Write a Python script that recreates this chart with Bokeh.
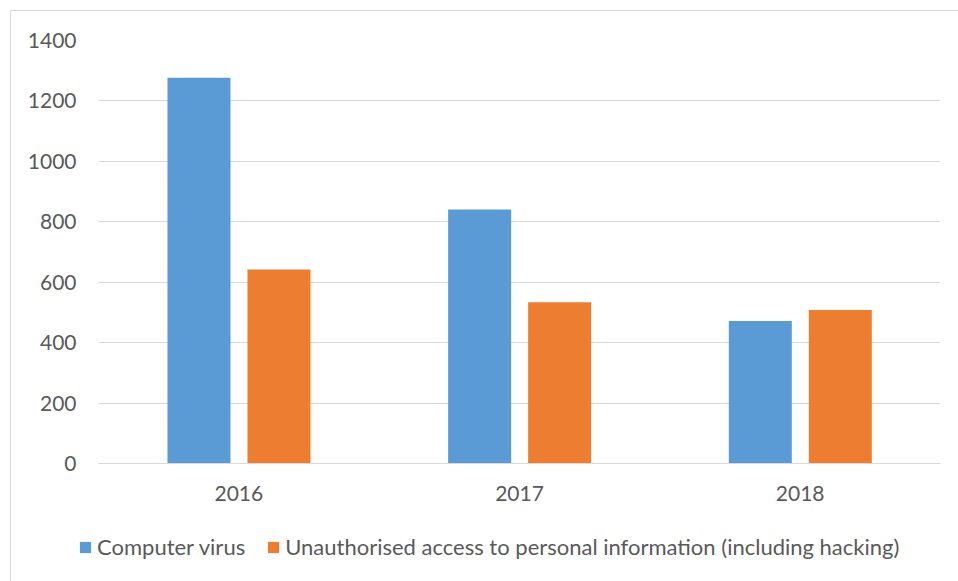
from bokeh.plotting import figure
from bokeh.layouts import column
from bokeh.models import ColumnDataSource, FactorRange, Range1d, Legend, LegendItem, FixedTicker
from bokeh.transform import dodge
from bokeh.embed import file_html
from bokeh.resources import INLINE

years = ["2016", "2017", "2018"]
computer_virus = [1277, 841, 472]
unauthorised_access = [642, 534, 508]
y_ticks = [0, 200, 400, 600, 800, 1000, 1200, 1400]
series_names = ["Computer virus", "Unauthorised access to personal information (including hacking)"]

FONT = "Lato"
TXT = "#595959"
GRID = "#d9d9d9"
BLUE = "#5b9bd5"
ORANGE = "#ed7d31"

src = ColumnDataSource(dict(year=years, cv=computer_virus, ua=unauthorised_access))

p = figure(x_range=FactorRange(*years), y_range=Range1d(0, 1400),
           width=947, height=500, output_backend="svg", toolbar_location=None,
           min_border_left=87, min_border_right=18, min_border_top=29, min_border_bottom=48)
p.outline_line_color = None
p.background_fill_color = "white"
p.border_fill_color = "white"

p.vbar(x=dodge("year", -0.142, range=p.x_range), top="cv", width=0.2245, source=src,
       fill_color=BLUE, line_color=None)
p.vbar(x=dodge("year", 0.143, range=p.x_range), top="ua", width=0.2245, source=src,
       fill_color=ORANGE, line_color=None)

p.xgrid.grid_line_color = None
p.ygrid.grid_line_color = GRID
p.ygrid.grid_line_width = 1

p.yaxis.ticker = FixedTicker(ticks=y_ticks)
p.yaxis.axis_line_color = None
p.yaxis.major_tick_line_color = None
p.yaxis.minor_tick_line_color = None
p.yaxis.major_label_standoff = 16
p.yaxis.major_label_text_font = FONT
p.yaxis.major_label_text_font_size = "21px"
p.yaxis.major_label_text_color = TXT

p.xaxis.axis_line_color = GRID
p.xaxis.axis_line_width = 1
p.xaxis.major_tick_line_color = None
p.xaxis.minor_tick_line_color = None
p.xaxis.major_label_standoff = 16
p.xaxis.major_label_text_font = FONT
p.xaxis.major_label_text_font_size = "21px"
p.xaxis.major_label_text_color = TXT

# legend strip (separate figure so the legend is not clipped by the plot frame)
lf = figure(x_range=FactorRange(*years), y_range=Range1d(5000, 6000),
            width=947, height=70, output_backend="svg", toolbar_location=None,
            x_axis_location=None, y_axis_location=None,
            min_border_left=0, min_border_right=0, min_border_top=0, min_border_bottom=0)
lf.frame_align = False
lf.outline_line_color = None
lf.xgrid.grid_line_color = None
lf.ygrid.grid_line_color = None
lr1 = lf.vbar(x="year", top="cv", width=0.2, source=src, fill_color=BLUE, line_color=None)
lr2 = lf.vbar(x="year", top="ua", width=0.2, source=src, fill_color=ORANGE, line_color=None)

legend = Legend(items=[LegendItem(label=series_names[0], renderers=[lr1]),
                       LegendItem(label=series_names[1], renderers=[lr2])],
                orientation="horizontal", location=(67, 21),
                glyph_width=14, glyph_height=14, label_standoff=5, spacing=21,
                padding=0, margin=0, border_line_color=None, background_fill_alpha=0,
                label_text_font=FONT, label_text_font_size="22px", label_text_color=TXT)
lf.add_layout(legend, "center")

layout = column(p, lf, spacing=0)
layout.styles = {"margin-left": "10px", "margin-top": "10px",
                 "border-left": "1px solid #d9d9d9", "border-top": "1px solid #d9d9d9"}

open("out.html", "w").write(file_html(layout, INLINE))
